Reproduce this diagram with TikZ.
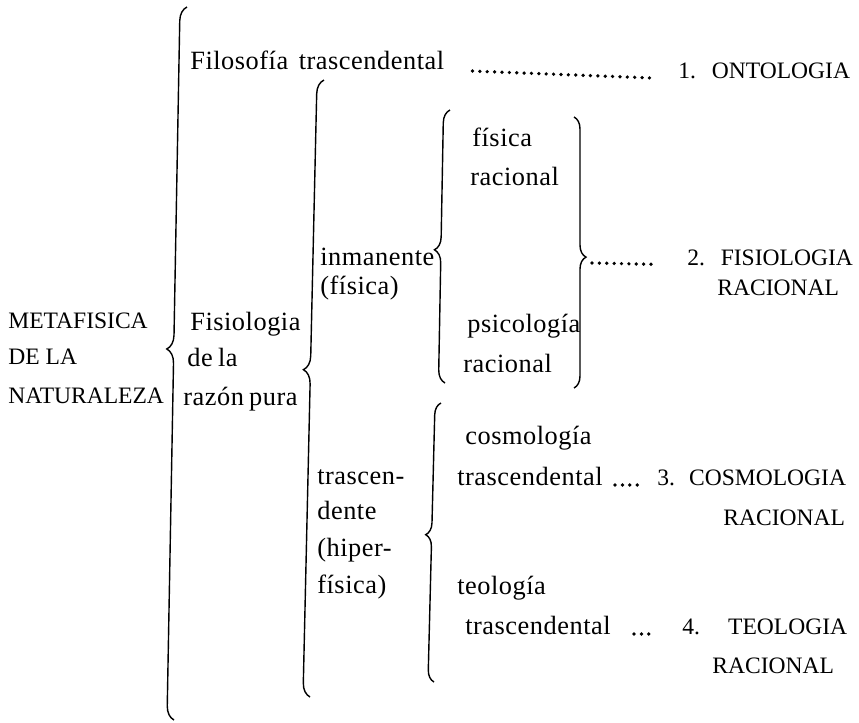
\documentclass[tikz,border=0pt]{standalone}
\usepackage{fontspec}
\setmainfont{Liberation Serif}
\newfontfamily\lcfont[LetterSpace=2]{Liberation Serif}
\usetikzlibrary{decorations.pathreplacing}

\tikzset{
  captext/.style={inner sep=0pt, anchor=base west, font=\fontsize{13.4}{16}\selectfont},
  lctext/.style={inner sep=0pt, anchor=base west, font=\lcfont\fontsize{15}{18}\selectfont},
  bracket/.style 2 args={decorate, decoration={brace, amplitude=#1, aspect=#2}, line width=0.8pt},
  leader/.style={line width=2.1pt, line cap=round, dash pattern=on 0pt off 4.2pt},
}

\begin{document}
\begin{tikzpicture}[x=0.02cm, y=-0.02cm]
    \useasboundingbox (0,0) rectangle (859,723);
    % first column
    \node[captext] (meta1) at (8,328) {METAFISICA};
    \node[captext] (meta2) at (8,364) {DE LA};
    \node[captext] (meta3) at (8,403) {NATURALEZA};
    \draw[bracket={0.28cm}{0.52}] (174,720) -- (187,7);
    % second column
    \node[lctext] (filo) at (190,70) {Filosofía\hspace{6pt}trascendental};
    \node[captext] (onto) at (678,79) {1.\hspace{9pt}ONTOLOGIA};
    \node[lctext] (fis1) at (190,330) {Fisiologia};
    \node[lctext] (fis2) at (187,366) {de\hspace{3pt}la};
    \node[lctext] (fis3) at (183,405) {razón\hspace{3pt}pura};
    \draw[bracket={0.28cm}{0.53}] (310,697) -- (324,80);
    \draw[leader, shorten <=0.56cm, shorten >=0.5cm] (filo.base east) -- (onto.base west);
    % inmanente
    \node[lctext] (inm1) at (320,265) {inmanente};
    \node[lctext] (inm2) at (320,294) {(física)};
    \draw[bracket={0.26cm}{0.487}] (445,383) -- (450,110);
    \node[lctext] (fr1) at (472,147) {física};
    \node[lctext] (fr2) at (470,185) {racional};
    \node[lctext] (ps1) at (467,332) {psicología};
    \node[lctext] (ps2) at (463,372) {racional};
    \draw[bracket={0.24cm}{0.517}] (574,117) -- (574,388);
    \coordinate (fistip) at (592,263);
    \node[captext] (fisio) at (687,265) {2.\hspace{9pt}FISIOLOGIA};
    \node[captext] (fisrac) at (717,295) {RACIONAL};
    \draw[leader, shorten >=0.66cm] (fistip) -- (fisio.base west);
    % trascendente
    \node[lctext] (tr1) at (317,484) {trascen-};
    \node[lctext] (tr2) at (317,519) {dente};
    \node[lctext] (tr3) at (317,556) {(hiper-};
    \node[lctext] (tr4) at (317,593) {física)};
    \draw[bracket={0.24cm}{0.527}] (434,682) -- (441,403);
    \node[lctext] (cos1) at (465,444) {cosmología};
    \node[lctext] (cos2) at (457,485) {trascendental};
    \node[captext] (cosmo) at (657,485) {3.\hspace{8pt}COSMOLOGIA};
    \node[captext] (cosrac) at (723,525) {RACIONAL};
    \draw[leader, shorten <=0.24cm, shorten >=0.36cm] (cos2.base east) -- (cosmo.base west);
    \node[lctext] (teo1) at (457,594) {teología};
    \node[lctext] (teo2) at (465,634) {trascendental};
    \node[captext] (teol) at (682,634) {4.\hspace{16pt}TEOLOGIA};
    \node[captext] (teorac) at (712,673) {RACIONAL};
    \draw[leader, shorten <=0.46cm, shorten >=0.6cm] (teo2.base east) -- (teol.base west);
\end{tikzpicture}
\end{document}
